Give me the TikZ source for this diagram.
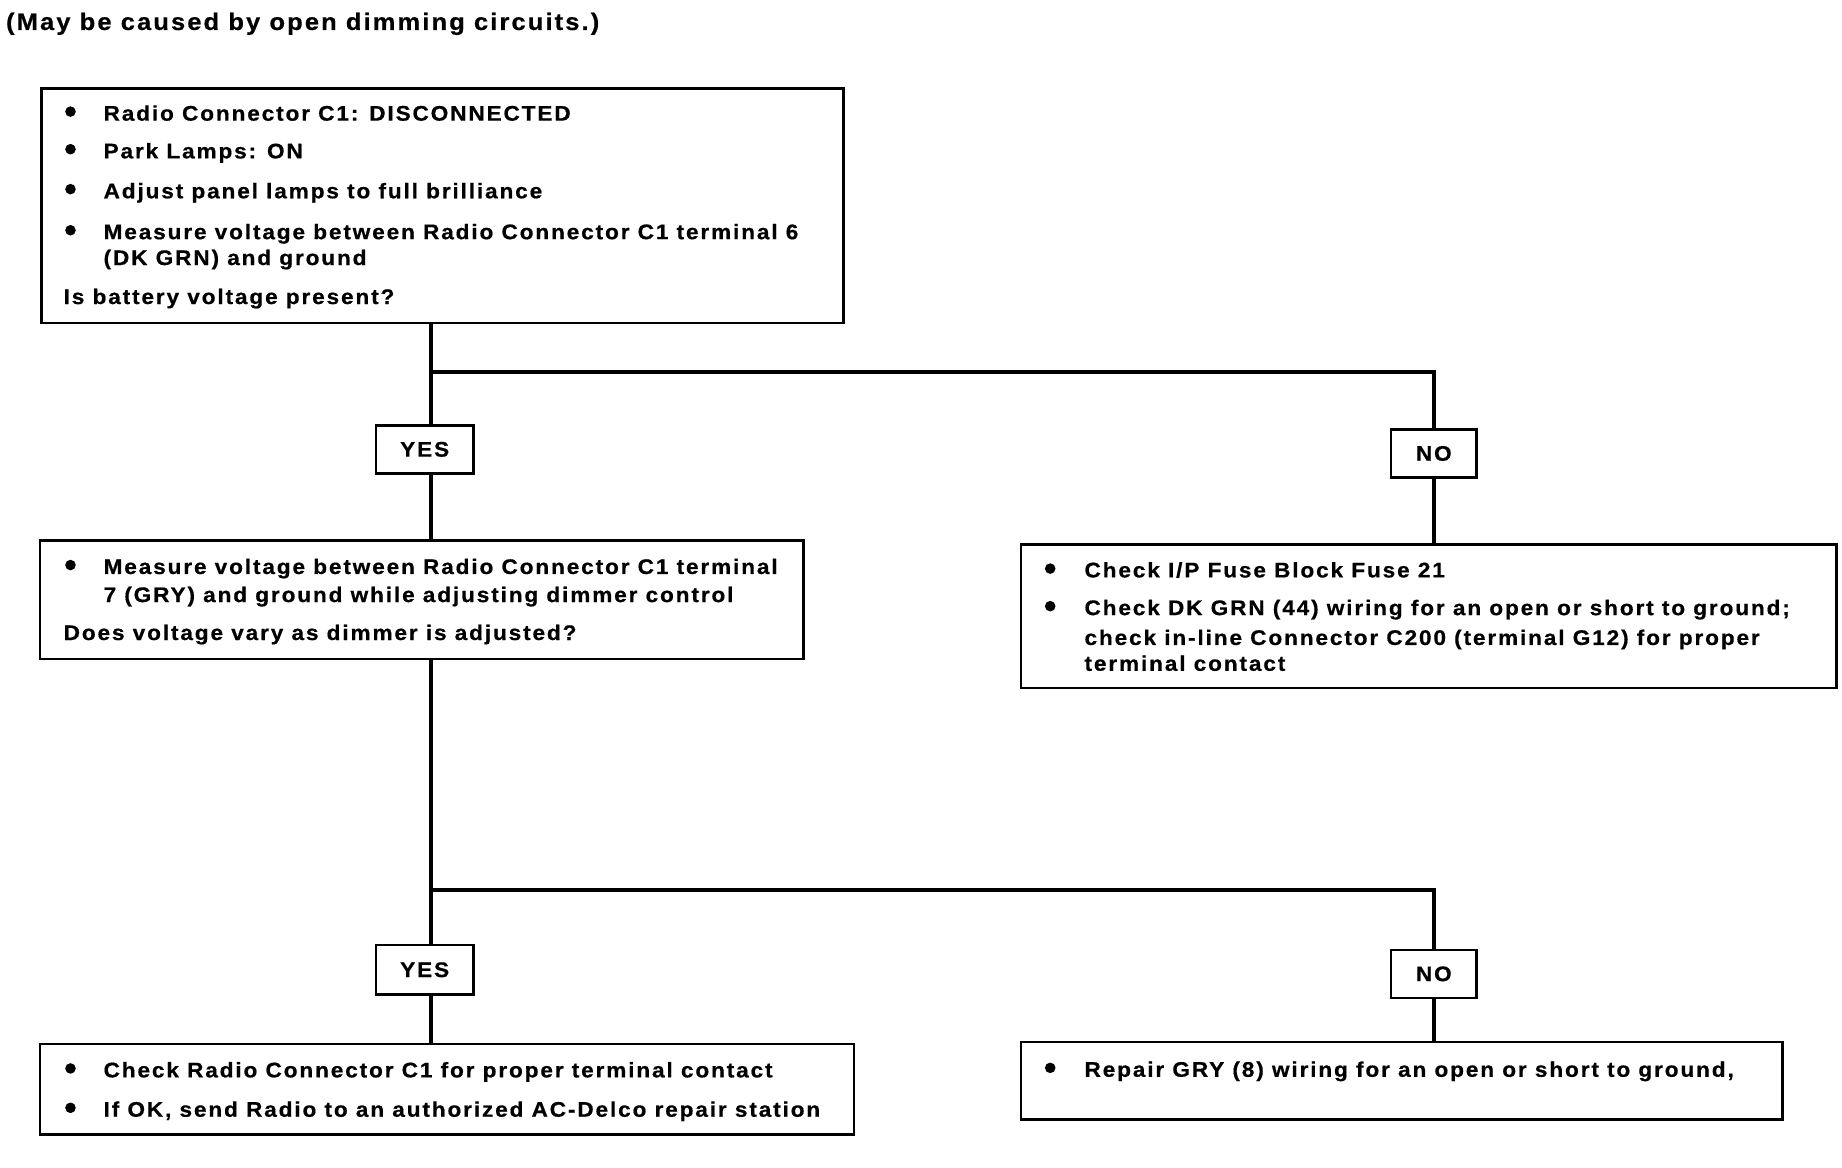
\documentclass[tikz,border=0pt]{standalone}
\usepackage{fontspec}
\newfontfamily\lab{Liberation Sans}[FakeStretch=1.07, LetterSpace=8.8, FakeBold=0.6]
\tikzset{
  box/.style={draw, line width=2.2pt, inner sep=0pt, anchor=north west},
  conn/.style={line width=3.3pt, line join=miter},
  txt/.style={anchor=base west, inner sep=0pt, font=\lab\bfseries\fontsize{18}{22}\selectfont},
  ttl/.style={anchor=base west, inner sep=0pt, font=\lab\bfseries\fontsize{20.3}{24}\selectfont},
  dot/.style={circle, fill, inner sep=0pt, minimum size=9pt},
  tag/.style={draw, line width=2.2pt, inner sep=0pt, minimum height=41pt, font=\lab\bfseries\fontsize{18}{22}\selectfont},
}
\begin{document}
\begin{tikzpicture}[x=1pt,y=-1pt]
\useasboundingbox (0,0) rectangle (1568,994);

% title
\node[ttl] (title) at (5,25.5) {(May be caused by open dimming circuits.)};

% boxes
\node[box, minimum width=683pt, minimum height=200pt] (b1) at (34,74) {};
\node[box, minimum width=650pt, minimum height=101pt] (b2) at (33,459) {};
\node[box, minimum width=694pt, minimum height=122pt] (r1) at (868,462.5) {};
\node[box, minimum width=693pt, minimum height=77pt] (b3) at (33,887.5) {};
\node[box, minimum width=648pt, minimum height=66pt] (r2) at (868,886) {};

% tags
\node[tag, minimum width=83pt] (y1) at (361.5,382.5) {YES};
\node[tag, minimum width=73pt] (n1) at (1220.5,386) {NO};
\node[tag, minimum width=83pt, minimum height=42pt] (y2) at (361.5,825.5) {YES};
\node[tag, minimum width=73pt] (n2) at (1220.5,829) {NO};

% junctions
\coordinate (j1) at (367,316.4);
\coordinate (j2) at (367,757.7);

% connectors
\draw[conn] (b1.south -| j1) -- (j1 |- y1.north);
\draw[conn] (j1 |- y1.south) -- (j1 |- b2.north);
\draw[conn] (j1) -| (n1.north);
\draw[conn] (n1.south) -- (n1.south |- r1.north);
\draw[conn] (b2.south -| j2) -- (j2 |- y2.north);
\draw[conn] (j2 |- y2.south) -- (j2 |- b3.north);
\draw[conn] (j2) -| (n2.north);
\draw[conn] (n2.south) -- (n2.south |- r2.north);

% box 1 text
\node[dot] (d11) at (60,95) {};
\node[txt] (t11) at (88,102.7) {Radio Connector C1: DISCONNECTED};
\node[dot] (d12) at (60,127) {};
\node[txt] (t12) at (88,134.8) {Park Lamps: ON};
\node[dot] (d13) at (60,161) {};
\node[txt] (t13) at (88,168.8) {Adjust panel lamps to full brilliance};
\node[dot] (d14) at (60,196) {};
\node[txt] (t14) at (88,203.6) {Measure voltage between Radio Connector C1 terminal 6};
\node[txt] (t15) at (88,225.6) {(DK GRN) and ground};
\node[txt] (t16) at (54,258.8) {Is battery voltage present?};

% box 2 text
\node[dot] (d21) at (60,481) {};
\node[txt] (t21) at (88,488.6) {Measure voltage between Radio Connector C1 terminal};
\node[txt] (t22) at (88,512.5) {7 (GRY) and ground while adjusting dimmer control};
\node[txt] (t23) at (54,544.8) {Does voltage vary as dimmer is adjusted?};

% right box 1 text
\node[dot] (d31) at (894,484) {};
\node[txt] (t31) at (923,491.5) {Check I/P Fuse Block Fuse 21};
\node[dot] (d32) at (894,516) {};
\node[txt] (t32) at (923,523.6) {Check DK GRN (44) wiring for an open or short to ground;};
\node[txt] (t33) at (923,549) {check in-line Connector C200 (terminal G12) for proper};
\node[txt] (t34) at (923,571) {terminal contact};

% box 3 text
\node[dot] (d41) at (60,909.5) {};
\node[txt] (t41) at (88,917.1) {Check Radio Connector C1 for proper terminal contact};
\node[dot] (d42) at (60,943) {};
\node[txt] (t42) at (88,950.6) {If OK, send Radio to an authorized AC-Delco repair station};

% right box 2 text
\node[dot] (d51) at (894,909) {};
\node[txt] (t51) at (923,916.6) {Repair GRY (8) wiring for an open or short to ground,};
\end{tikzpicture}
\end{document}
